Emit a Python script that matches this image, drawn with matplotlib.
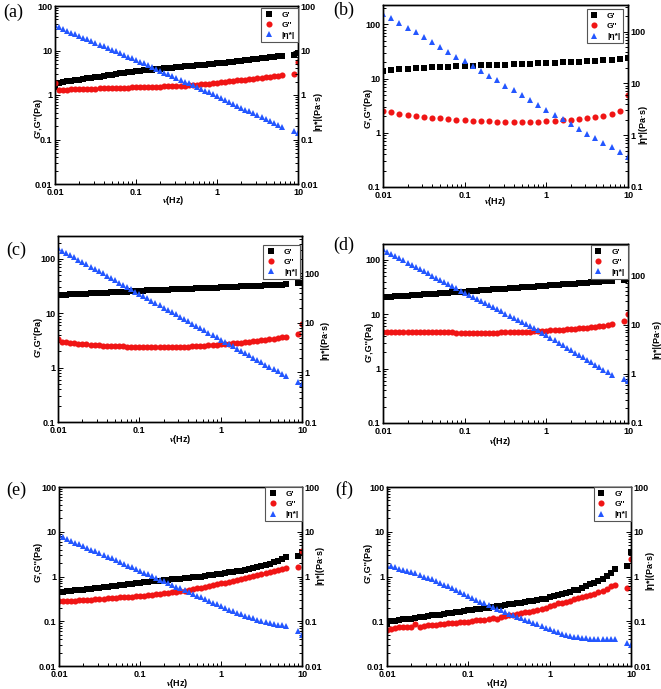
import matplotlib
matplotlib.use('Agg')
import matplotlib.pyplot as plt
from matplotlib.ticker import LogLocator, FuncFormatter, NullFormatter

plt.rcParams['font.family'] = ['Liberation Sans', 'DejaVu Sans']
plt.rcParams['font.weight'] = 'bold'
plt.rcParams['mathtext.fontset'] = 'custom'
plt.rcParams['mathtext.it'] = 'Liberation Serif:italic'
plt.rcParams['mathtext.rm'] = 'Liberation Sans:bold'

W, H = 661, 689

# frequency grids (Hz)
freq = [0.01, 0.0112, 0.0126, 0.0141, 0.0158, 0.0178, 0.02, 0.0224, 0.0251, 0.0282,
        0.0316, 0.0355, 0.0398, 0.0447, 0.0501, 0.0562, 0.0631, 0.0708, 0.0794, 0.0891,
        0.1, 0.112, 0.126, 0.141, 0.158, 0.178, 0.2, 0.224, 0.251, 0.282,
        0.316, 0.355, 0.398, 0.447, 0.501, 0.562, 0.631, 0.708, 0.794, 0.891,
        1.0, 1.12, 1.26, 1.41, 1.58, 1.78, 2.0, 2.24, 2.51, 2.82,
        3.16, 3.55, 3.98, 4.47, 5.01, 5.62, 6.31, 8.9, 10.0]
freq_b = [0.01, 0.0126, 0.0158, 0.02, 0.0251, 0.0316, 0.0398, 0.0501, 0.0631, 0.0794,
          0.1, 0.126, 0.158, 0.2, 0.251, 0.316, 0.398, 0.501, 0.631, 0.794,
          1.0, 1.26, 1.58, 2.0, 2.51, 3.16, 3.98, 5.01, 6.31, 7.94, 10.0]

# (a)
a_g1 = [1.5, 1.90, 1.96, 2.02, 2.09, 2.15, 2.22, 2.29, 2.37, 2.44,
        2.52, 2.60, 2.69, 2.77, 2.86, 2.95, 3.05, 3.14, 3.24, 3.35,
        3.46, 3.53, 3.60, 3.67, 3.74, 3.81, 3.89, 3.97, 4.04, 4.12,
        4.21, 4.29, 4.37, 4.46, 4.55, 4.64, 4.73, 4.82, 4.92, 5.02,
        5.12, 5.24, 5.37, 5.51, 5.64, 5.78, 5.93, 6.07, 6.22, 6.38,
        6.53, 6.69, 6.86, 7.03, 7.20, 7.38, 7.56, 8.0, 8.6]
a_g2 = [1.85, 1.30, 1.31, 1.32, 1.33, 1.34, 1.35, 1.36, 1.37, 1.38,
        1.39, 1.40, 1.41, 1.42, 1.43, 1.44, 1.45, 1.46, 1.47, 1.48,
        1.49, 1.50, 1.51, 1.52, 1.53, 1.54, 1.55, 1.56, 1.57, 1.58,
        1.59, 1.60, 1.62, 1.65, 1.68, 1.71, 1.74, 1.77, 1.80, 1.84,
        1.88, 1.93, 1.97, 2.02, 2.07, 2.12, 2.18, 2.23, 2.29, 2.34,
        2.40, 2.46, 2.52, 2.58, 2.65, 2.71, 2.78, 2.9, 5.5]
a_eta = [38, 33, 30.2, 27.6, 25.3, 23.1, 21.2, 19.4, 17.7, 16.2,
         14.8, 13.6, 12.4, 11.4, 10.4, 9.5, 8.7, 8.0, 7.3, 6.7,
         6.2, 5.64, 5.13, 4.67, 4.25, 3.87, 3.52, 3.20, 2.91, 2.65,
         2.41, 2.20, 2.0, 1.82, 1.66, 1.51, 1.37, 1.25, 1.14, 1.03,
         0.94, 0.85, 0.77, 0.70, 0.63, 0.57, 0.52, 0.47, 0.43, 0.39,
         0.35, 0.32, 0.29, 0.26, 0.235, 0.213, 0.193, 0.155, 0.14]

# (b)
b_g1 = [14.0, 14.5, 14.8, 15.1, 15.4, 15.7, 16.0, 16.3, 16.6, 16.9,
        17.1, 17.3, 17.5, 17.7, 17.9, 18.1, 18.3, 18.5, 18.8, 19.1,
        19.4, 19.7, 20.0, 20.3, 20.6, 20.9, 21.3, 21.7, 22.2, 22.8, 24.0]
b_g2 = [2.54, 2.46, 2.24, 2.15, 2.06, 1.97, 1.90, 1.85, 1.80, 1.75,
        1.70, 1.67, 1.64, 1.62, 1.60, 1.59, 1.58, 1.58, 1.59, 1.61,
        1.64, 1.67, 1.70, 1.74, 1.80, 1.87, 1.96, 2.07, 2.25, 2.55, 4.9]
b_eta = [219, 180, 148, 119, 97, 79, 64, 51.5, 41, 33,
         27, 21.8, 17.7, 14, 11.4, 9.1, 7.5, 5.9, 4.8, 3.86,
         3.1, 2.48, 2.04, 1.64, 1.33, 1.07, 0.88, 0.70, 0.58, 0.47, 0.38]

# (c)
c_g1 = [21.7, 21.9, 22.1, 22.3, 22.5, 22.7, 22.9, 23.1, 23.3, 23.5,
        23.7, 23.9, 24.1, 24.4, 24.6, 24.8, 25.0, 25.2, 25.5, 25.7,
        26.0, 26.2, 26.4, 26.6, 26.7, 26.9, 27.1, 27.3, 27.5, 27.7,
        27.9, 28.1, 28.3, 28.5, 28.7, 28.9, 29.1, 29.3, 29.5, 29.8,
        30.0, 30.2, 30.5, 30.7, 31.0, 31.2, 31.5, 31.7, 32.0, 32.2,
        32.5, 32.7, 33.0, 33.3, 33.5, 33.8, 34.0, 35.5, 36.0]
c_g2 = [3.3, 3.02, 2.95, 2.88, 2.82, 2.76, 2.71, 2.67, 2.63, 2.60,
        2.57, 2.55, 2.53, 2.51, 2.49, 2.47, 2.46, 2.44, 2.43, 2.42,
        2.41, 2.40, 2.39, 2.38, 2.38, 2.38, 2.38, 2.39, 2.40, 2.41,
        2.42, 2.43, 2.45, 2.47, 2.49, 2.51, 2.54, 2.57, 2.60, 2.63,
        2.67, 2.71, 2.75, 2.79, 2.84, 2.89, 2.94, 3.0, 3.06, 3.13,
        3.20, 3.27, 3.35, 3.43, 3.51, 3.60, 3.69, 4.1, 6.3]
c_eta = [321, 289, 260, 234, 210, 189, 170, 153, 138, 124,
         111, 100, 90, 81, 73, 65.6, 59, 53.1, 47.7, 42.9,
         38.6, 34.7, 31.2, 28.1, 25.3, 22.7, 20.4, 18.4, 16.5, 14.9,
         13.4, 12.0, 10.8, 9.73, 8.75, 7.87, 7.08, 6.37, 5.73, 5.15,
         4.63, 4.17, 3.75, 3.37, 3.03, 2.73, 2.45, 2.21, 1.98, 1.78,
         1.6, 1.44, 1.3, 1.17, 1.05, 0.94, 0.85, 0.65, 0.58]

# (d)
d_g1 = [20.5, 20.8, 21.0, 21.3, 21.6, 21.8, 22.1, 22.4, 22.7, 22.9,
        23.2, 23.5, 23.8, 24.1, 24.4, 24.7, 25.0, 25.3, 25.7, 26.0,
        26.3, 26.6, 27.0, 27.3, 27.7, 28.0, 28.4, 28.7, 29.1, 29.4,
        29.8, 30.2, 30.6, 31.0, 31.3, 31.7, 32.1, 32.5, 33.0, 33.4,
        33.8, 34.2, 34.7, 35.1, 35.5, 36.0, 36.4, 36.9, 37.4, 37.8,
        38.3, 38.8, 39.3, 39.8, 40.3, 40.8, 41.3, 42.5, 44.0]
d_g2 = [4.76, 4.75, 4.74, 4.74, 4.75, 4.77, 4.78, 4.77, 4.76, 4.74,
        4.72, 4.70, 4.69, 4.68, 4.67, 4.66, 4.65, 4.64, 4.63, 4.62,
        4.61, 4.60, 4.60, 4.60, 4.60, 4.60, 4.61, 4.62, 4.63, 4.64,
        4.66, 4.68, 4.70, 4.72, 4.75, 4.78, 4.82, 4.86, 4.90, 4.95,
        5.0, 5.05, 5.10, 5.16, 5.22, 5.28, 5.35, 5.42, 5.50, 5.58,
        5.67, 5.77, 5.88, 6.0, 6.15, 6.35, 6.6, 7.5, 10.0]
d_eta = [344, 309, 280, 253, 228, 206, 186, 168, 152, 137,
         124, 112, 101, 91.5, 82.6, 74.6, 67.4, 60.9, 55.0, 49.6,
         45.0, 40.8, 37.0, 33.6, 30.5, 27.6, 25.1, 22.7, 20.6, 18.7,
         17.0, 15.4, 13.9, 12.6, 11.5, 10.4, 9.4, 8.5, 7.7, 6.95,
         6.1, 5.45, 4.85, 4.32, 3.85, 3.43, 3.06, 2.72, 2.42, 2.16,
         1.92, 1.71, 1.53, 1.36, 1.21, 1.08, 0.97, 0.79, 0.72]

# (e)
e_g1 = [0.44, 0.46, 0.47, 0.48, 0.49, 0.50, 0.51, 0.52, 0.53, 0.54,
        0.56, 0.57, 0.58, 0.60, 0.61, 0.63, 0.65, 0.67, 0.69, 0.71,
        0.73, 0.75, 0.76, 0.78, 0.79, 0.80, 0.82, 0.84, 0.86, 0.88,
        0.90, 0.92, 0.94, 0.96, 0.98, 1.0, 1.03, 1.06, 1.09, 1.12,
        1.16, 1.19, 1.23, 1.27, 1.31, 1.36, 1.41, 1.47, 1.54, 1.62,
        1.71, 1.81, 1.93, 2.06, 2.22, 2.42, 2.75, 2.8, 3.6]
e_g2 = [0.29, 0.285, 0.285, 0.29, 0.29, 0.295, 0.30, 0.30, 0.305, 0.31,
        0.315, 0.32, 0.325, 0.33, 0.335, 0.34, 0.345, 0.35, 0.355, 0.36,
        0.37, 0.375, 0.385, 0.39, 0.40, 0.41, 0.42, 0.43, 0.44, 0.455,
        0.47, 0.485, 0.50, 0.52, 0.54, 0.56, 0.58, 0.61, 0.64, 0.67,
        0.70, 0.73, 0.76, 0.80, 0.84, 0.88, 0.92, 0.96, 1.01, 1.06,
        1.11, 1.17, 1.23, 1.30, 1.38, 1.46, 1.55, 1.62, 3.7]
e_eta = [8.3, 7.6, 6.9, 6.3, 5.75, 5.25, 4.8, 4.4, 4.0, 3.65,
         3.33, 3.04, 2.78, 2.54, 2.32, 2.12, 1.93, 1.76, 1.61, 1.47,
         1.34, 1.22, 1.12, 1.02, 0.93, 0.85, 0.78, 0.71, 0.65, 0.59,
         0.54, 0.49, 0.45, 0.41, 0.375, 0.34, 0.31, 0.285, 0.26, 0.237,
         0.216, 0.198, 0.182, 0.168, 0.155, 0.143, 0.133, 0.124, 0.116, 0.109,
         0.103, 0.097, 0.092, 0.088, 0.084, 0.081, 0.078, 0.06, 0.05]

# (f)
f_g1 = [0.089, 0.10, 0.10, 0.105, 0.11, 0.115, 0.115, 0.12, 0.125, 0.125,
        0.13, 0.135, 0.14, 0.14, 0.145, 0.15, 0.155, 0.16, 0.165, 0.17,
        0.175, 0.18, 0.185, 0.19, 0.195, 0.20, 0.21, 0.215, 0.22, 0.23,
        0.24, 0.24, 0.25, 0.26, 0.27, 0.28, 0.285, 0.30, 0.31, 0.32,
        0.34, 0.36, 0.38, 0.40, 0.43, 0.46, 0.49, 0.51, 0.56, 0.61,
        0.67, 0.73, 0.81, 0.90, 1.02, 1.18, 1.45, 1.7, 3.5]
f_g2 = [0.063, 0.066, 0.072, 0.073, 0.073, 0.074, 0.075, 0.085, 0.076, 0.079,
        0.081, 0.082, 0.083, 0.085, 0.088, 0.09, 0.09, 0.092, 0.094, 0.095,
        0.097, 0.10, 0.105, 0.107, 0.108, 0.11, 0.12, 0.115, 0.125, 0.13,
        0.135, 0.14, 0.145, 0.15, 0.16, 0.165, 0.17, 0.18, 0.19, 0.20,
        0.215, 0.23, 0.25, 0.26, 0.27, 0.29, 0.31, 0.33, 0.34, 0.36,
        0.38, 0.40, 0.44, 0.48, 0.53, 0.60, 0.66, 0.56, 2.5]
f_eta = [1.72, 1.72, 1.60, 1.50, 1.42, 1.34, 1.26, 1.18, 1.08, 1.0,
         0.93, 0.86, 0.79, 0.72, 0.66, 0.61, 0.56, 0.50, 0.45, 0.40,
         0.36, 0.33, 0.30, 0.27, 0.25, 0.225, 0.205, 0.19, 0.175, 0.16,
         0.148, 0.14, 0.125, 0.116, 0.108, 0.10, 0.092, 0.085, 0.078, 0.071,
         0.066, 0.061, 0.057, 0.053, 0.050, 0.047, 0.045, 0.044, 0.043, 0.042,
         0.041, 0.041, 0.040, 0.040, 0.040, 0.040, 0.040, 0.032, 0.03]

labels = ["G'", "G''", "|\u03b7*|"]

# layout in pixels: box = (left, top, right, bottom)
panels = [
    dict(tag='(a)', x=freq, s=(a_g1, a_g2, a_eta), box=(55, 6, 298, 184),
         ylim=(0.01, 100), ylim2=(0.01, 100), leg=(1.0, 0.99),
         tagxy=(13, 12), ylab=(38, 118), rlab=(318, 111), xlab=(173, 201)),
    dict(tag='(b)', x=freq_b, s=(b_g1, b_g2, b_eta), box=(383, 5, 628, 187),
         ylim=(0.1, 227), ylim2=(0.1, 326), leg=(0.98, 0.978),
         tagxy=(344, 10), ylab=(368, 108), rlab=(643, 124), xlab=(495, 202)),
    dict(tag='(c)', x=freq, s=(c_g1, c_g2, c_eta), box=(58, 236, 302, 422),
         ylim=(0.1, 265), ylim2=(0.1, 570), leg=(0.992, 0.952),
         tagxy=(16, 250), ylab=(38, 337), rlab=(325, 340), xlab=(180, 440)),
    dict(tag='(d)', x=freq, s=(d_g1, d_g2, d_eta), box=(383, 244, 628, 423),
         ylim=(0.1, 197), ylim2=(0.1, 443), leg=(1.0, 0.995),
         tagxy=(344, 245), ylab=(369, 342), rlab=(657, 339), xlab=(500, 441)),
    dict(tag='(e)', x=freq, s=(e_g1, e_g2, e_eta), box=(59, 487, 302, 666),
         ylim=(0.01, 100), ylim2=(0.01, 100), leg=(1.0, 1.0),
         tagxy=(16, 490), ylab=(38, 562), rlab=(320, 565), xlab=(177, 683)),
    dict(tag='(f)', x=freq, s=(f_g1, f_g2, f_eta), box=(387, 487, 631, 666),
         ylim=(0.01, 100), ylim2=(0.01, 100), leg=(1.0, 1.0),
         tagxy=(344, 490), ylab=(368, 563), rlab=(650, 570), xlab=(497, 683)),
]

styles = [dict(marker='s', ms=4.0, color='#000000'),
          dict(marker='o', ms=4.4, color='#f01515'),
          dict(marker='^', ms=5.0, color='#2457ff')]


def fmt(v, pos):
    return '%g' % v


def style_axis(axis):
    axis.set_major_locator(LogLocator(base=10))
    axis.set_minor_locator(LogLocator(base=10, subs=range(2, 10), numticks=20))
    axis.set_major_formatter(FuncFormatter(fmt))
    axis.set_minor_formatter(NullFormatter())


def ftext(xy, s, **kw):
    fig.text(xy[0] / W, 1 - xy[1] / H, s, ha='center', va='center', **kw)


fig = plt.figure(figsize=(W / 100, H / 100), dpi=100)

for p in panels:
    l, t, r, b = p['box']
    ax = fig.add_axes([l / W, 1 - b / H, (r - l) / W, (b - t) / H])
    ax2 = ax.twinx()
    handles = []
    for k, (ys, st) in enumerate(zip(p['s'], styles)):
        target = ax2 if k == 2 else ax
        h, = target.plot(p['x'], ys, ls='none', mew=0, label=labels[k], **st)
        handles.append(h)
    for a in (ax, ax2):
        a.set_xscale('log')
        a.set_yscale('log')
        a.set_xlim(0.01, 10)
        style_axis(a.yaxis)
        a.tick_params(which='both', direction='in', labelsize=6.5, pad=2, width=0.7)
        a.tick_params(which='major', length=3.5)
        a.tick_params(which='minor', length=2)
        for sp in a.spines.values():
            sp.set_linewidth(1.0)
    style_axis(ax.xaxis)
    ax.set_ylim(*p['ylim'])
    ax2.set_ylim(*p['ylim2'])
    ax.tick_params(axis='x', pad=3)
    leg = ax2.legend(handles, labels, loc='upper right', bbox_to_anchor=p['leg'],
                     borderaxespad=0, fontsize=6, frameon=True, fancybox=False,
                     framealpha=1, edgecolor='#555555', handlelength=1.0,
                     handletextpad=1.1, borderpad=0.35, labelspacing=0.3)
    leg.get_frame().set_linewidth(0.8)

    ftext(p['tagxy'], p['tag'], fontsize=13, fontweight='normal',
          family=['Liberation Serif', 'DejaVu Serif'])
    ftext(p['ylab'], "G',G''(Pa)", fontsize=6.5, rotation=90)
    ftext(p['rlab'], "|\u03b7*|(Pa\u00b7s)", fontsize=6.5, rotation=90)
    ftext(p['xlab'], r"$\nu$(Hz)", fontsize=6.5)

fig.savefig('out.png', dpi=100)
